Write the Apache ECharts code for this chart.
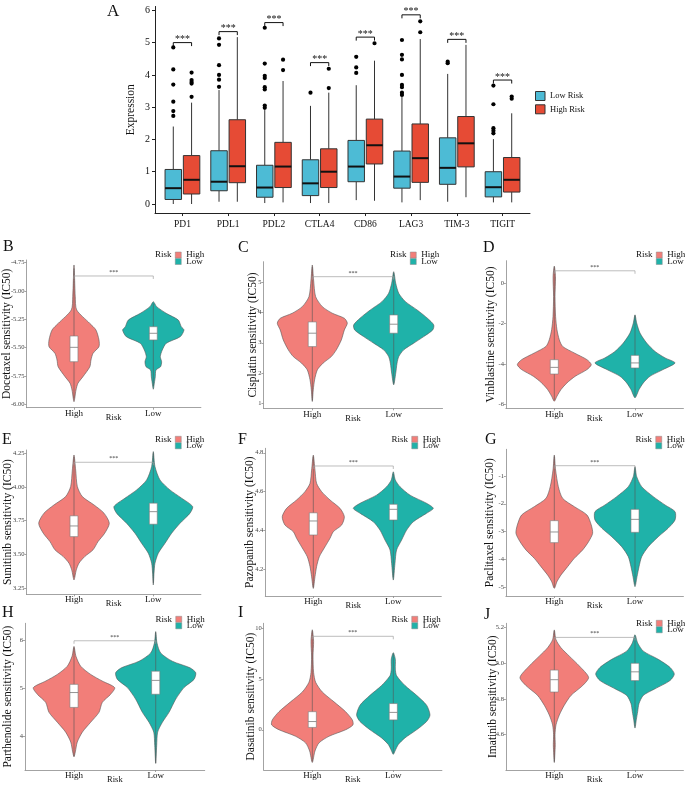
<!DOCTYPE html>
<html><head><meta charset="utf-8">
<script src="https://cdn.jsdelivr.net/npm/echarts@6/dist/echarts.min.js"></script>
<style>html,body{margin:0;padding:0;background:#fff}#c{width:685px;height:785px}</style>
</head><body><div id="c"></div>
<script>
// ---------------- Panel A data ----------------
const genes = ['PD1','PDL1','PDL2','CTLA4','CD86','LAG3','TIM-3','TIGIT'];
// [lower whisker, Q1, median, Q3, upper whisker]
const lowRiskBox = [
  [0.00,0.14,0.49,1.07,2.40],[0.07,0.41,0.69,1.65,3.53],[0.03,0.21,0.51,1.20,2.91],[0.03,0.26,0.64,1.37,3.04],
  [0.12,0.69,1.16,1.97,3.68],[0.05,0.49,0.85,1.64,3.33],[0.07,0.61,1.12,2.05,4.03],[0.05,0.22,0.52,1.00,2.01]];
const highRiskBox = [
  [0.00,0.31,0.75,1.50,3.14],[0.07,0.66,1.17,2.61,5.17],[0.05,0.51,1.16,1.91,3.81],[0.03,0.51,1.00,1.71,3.45],
  [0.10,1.24,1.82,2.63,4.44],[0.12,0.67,1.42,2.48,5.11],[0.21,1.15,1.88,2.71,4.93],[0.05,0.37,0.75,1.44,2.81]];
const lowRiskOutliers = [
  ['PD1',2.73],['PD1',2.88],['PD1',3.17],['PD1',3.70],['PD1',4.17],['PD1',4.85],
  ['PDL1',3.63],['PDL1',3.85],['PDL1',4.00],['PDL1',4.30],['PDL1',4.93],['PDL1',5.13],
  ['PDL2',2.98],['PDL2',3.05],['PDL2',3.55],['PDL2',3.62],['PDL2',3.90],['PDL2',3.97],['PDL2',4.35],['PDL2',5.46],
  ['CTLA4',3.45],['CD86',4.06],['CD86',4.23],['CD86',4.56],
  ['LAG3',3.38],['LAG3',3.45],['LAG3',3.62],['LAG3',3.69],['LAG3',4.00],['LAG3',4.48],['LAG3',4.62],['LAG3',5.08],
  ['TIM-3',4.36],['TIM-3',4.41],['TIGIT',2.19],['TIGIT',2.27],['TIGIT',2.35],['TIGIT',3.09],['TIGIT',3.67]];
const highRiskOutliers = [
  ['PD1',3.32],['PD1',3.73],['PD1',3.78],['PD1',3.84],['PD1',4.07],
  ['PDL2',4.15],['PDL2',4.47],['CTLA4',3.59],['CTLA4',4.19],['CD86',4.98],
  ['LAG3',5.32],['LAG3',5.66],['TIGIT',3.26],['TIGIT',3.33]];
const sigHeightA = [5.00,5.34,5.62,4.38,5.17,5.86,5.10,3.84];
const ticksA = [0,1,2,3,4,5,6];

// ---------------- Violin panels data ----------------
const riskGroups = ['High','Low'];
const drugs = ['Docetaxel','Cisplatin','Vinblastine','Sunitinib','Pazopanib','Paclitaxel','Parthenolide','Dasatinib','Imatinib'];
// violin profiles: [IC50 value, half width in category units]
const B_high = [[-4.770,0],[-5.050,.016],[-5.167,.034],[-5.285,.198],[-5.344,.277],[-5.432,.315],[-5.491,.315],[-5.550,.24],[-5.609,.214],[-5.668,.2],[-5.756,.113],[-5.814,.05],[-5.874,.025],[-5.977,0]];
const B_low  = [[-5.094,0],[-5.138,.042],[-5.197,.164],[-5.256,.315],[-5.315,.353],[-5.344,.387],[-5.403,.34],[-5.461,.164],[-5.521,.113],[-5.580,.088],[-5.624,.105],[-5.668,.092],[-5.697,.034],[-5.756,.025],[-5.814,.013],[-5.867,0]];
const C_high = [[5.571,0],[5.076,.016],[4.525,.041],[4.195,.123],[3.977,.246],[3.81,.394],[3.647,.43],[3.426,.394],[3.096,.357],[2.766,.295],[2.545,.234],[2.327,.132],[2.106,.062],[1.776,.028],[1.446,.012],[1.06,0]];
const C_low  = [[5.35,0],[4.967,.025],[4.637,.062],[4.36,.144],[4.086,.287],[3.81,.415],[3.59,.492],[3.426,.48],[3.205,.369],[2.987,.246],[2.766,.123],[2.545,.062],[2.327,.041],[1.997,.025],[1.61,0]];
const D_high = [[0.854,0],[0.33,.015],[-0.66,.009],[-1.65,.016],[-2.306,.033],[-2.8,.062],[-3.13,.103],[-3.457,.248],[-3.788,.405],[-4.035,.458],[-4.28,.405],[-4.61,.26],[-4.94,.157],[-5.27,.083],[-5.6,.033],[-5.85,0]];
const D_low  = [[-1.565,0],[-1.975,.021],[-2.47,.062],[-2.963,.145],[-3.38,.248],[-3.70,.372],[-3.95,.496],[-4.28,.347],[-4.61,.186],[-4.94,.103],[-5.27,.05],[-5.68,0]];
const E_high = [[4.237,0],[4.126,.021],[4.003,.042],[3.929,.105],[3.867,.252],[3.806,.378],[3.731,.445],[3.657,.387],[3.595,.303],[3.534,.24],[3.484,.135],[3.435,.063],[3.386,.029],[3.311,0]];
const E_low  = [[4.262,0],[4.151,.021],[4.052,.084],[3.978,.21],[3.917,.357],[3.855,.496],[3.806,.463],[3.731,.337],[3.657,.231],[3.583,.148],[3.509,.063],[3.435,.021],[3.361,.009],[3.274,0]];
const F_high = [[4.788,0],[4.711,.021],[4.643,.041],[4.6,.104],[4.557,.209],[4.514,.334],[4.471,.388],[4.428,.354],[4.394,.25],[4.36,.209],[4.316,.146],[4.265,.075],[4.214,.041],[4.162,.021],[4.102,0]];
const F_low  = [[4.702,0],[4.66,.025],[4.625,.084],[4.582,.209],[4.54,.416],[4.514,.5],[4.488,.413],[4.445,.25],[4.402,.166],[4.351,.104],[4.3,.041],[4.231,.021],[4.145,0]];
const G_high = [[-0.245,0],[-0.784,.016],[-1.384,.05],[-1.803,.103],[-2.103,.248],[-2.403,.405],[-2.763,.458],[-3.062,.475],[-3.362,.425],[-3.662,.351],[-3.961,.248],[-4.261,.165],[-4.561,.083],[-4.80,.033],[-5.04,0]];
const G_low  = [[-0.666,0],[-1.024,.021],[-1.384,.083],[-1.744,.227],[-2.043,.372],[-2.283,.496],[-2.583,.496],[-2.883,.409],[-3.182,.289],[-3.542,.165],[-3.902,.083],[-4.261,.05],[-4.62,.025],[-4.98,0]];
const H_high = [[5.863,0],[5.658,.024],[5.453,.082],[5.283,.204],[5.146,.346],[5.01,.498],[4.873,.449],[4.703,.346],[4.498,.306],[4.293,.204],[4.088,.102],[3.883,.04],[3.678,.016],[3.576,0]];
const H_low  = [[6.17,0],[5.932,.016],[5.727,.061],[5.556,.204],[5.42,.42],[5.318,.49],[5.18,.469],[5.01,.346],[4.77,.245],[4.498,.163],[4.293,.082],[4.088,.024],[3.814,.012],[3.44,0]];
const I_high = [[9.845,0],[8.71,.016],[7.26,.009],[5.65,.016],[4.68,.041],[3.72,.123],[2.75,.268],[1.78,.411],[0.97,.494],[0.48,.502],[0,.411],[-0.64,.206],[-1.29,.083],[-2.09,.033],[-3.22,0]];
const I_low  = [[7.59,0],[6.94,.025],[5.97,.025],[5.32,.041],[4.36,.144],[3.39,.288],[2.42,.411],[1.45,.453],[0.81,.411],[0,.288],[-0.8,.144],[-1.45,.062],[-2.09,.021],[-2.42,0]];
const J_high = [[5.187,0],[5.132,.021],[5.087,.083],[5.04,.186],[4.985,.31],[4.921,.425],[4.875,.351],[4.82,.207],[4.765,.124],[4.71,.062],[4.655,.021],[4.6,.009],[4.545,.012],[4.509,.009],[4.444,0]];
const J_low  = [[5.16,0],[5.114,.033],[5.068,.103],[5.022,.289],[4.977,.434],[4.94,.487],[4.903,.434],[4.857,.248],[4.82,.103],[4.775,.05],[4.729,.033],[4.683,.016],[4.637,0]];
// inner boxes: [High, Low], each [lower, Q1, median, Q3, upper]
const B_box = [[-5.95,-5.624,-5.497,-5.397,-4.80],[-5.84,-5.432,-5.373,-5.315,-5.11]];
const C_box = [[1.10,2.875,3.317,3.69,5.50],[1.65,3.317,3.614,3.92,5.30]];
const D_box = [[-5.80,-4.50,-4.17,-3.79,0.80],[-5.60,-4.20,-3.95,-3.574,-1.60]];
const E_box = [[3.33,3.632,3.711,3.786,4.22],[3.29,3.724,3.817,3.880,4.25]];
const F_box = [[4.11,4.377,4.449,4.491,4.78],[4.16,4.454,4.509,4.535,4.69]];
const G_box = [[-5.00,-3.398,-3.014,-2.607,-0.30],[-4.90,-3.026,-2.56,-2.20,-0.70]];
const H_box = [[3.60,4.60,4.908,5.078,5.84],[3.45,4.873,5.16,5.35,6.15]];
const I_box = [[-3.10,0.23,0.81,1.78,9.70],[-2.30,0.97,1.71,2.58,7.50]];
const J_box = [[4.45,4.839,4.908,4.962,5.18],[4.65,4.903,4.952,5.00,5.15]];
const sigHeights = [-4.867, 5.185, 0.62, 4.183, 4.732, -0.63, 5.98, 9.2, 5.145];
const B_ticks = [-6,-5.75,-5.5,-5.25,-5,-4.75];
const C_ticks = [1,2,3,4,5];
const D_ticks = [-6,-4,-2,0];
const E_ticks = [3.25,3.5,3.75,4,4.25];
const F_ticks = [4.2,4.4,4.6,4.8];
const G_ticks = [-5,-4,-3,-2,-1];
const H_ticks = [4,5,6];
const I_ticks = [0,5,10];
const J_ticks = [4.6,4.8,5.0,5.2];

// ---------------- layout & style ----------------
const SERIF = '"Liberation Serif","Times New Roman",serif';
const BLUE = '#4DBBD5', RED = '#E64B35';
const HIGHC = '#F27E79', LOWC = '#1FB2A9';
const AXG = '#8c8c8c';

const panels = [
  {L:'B', hi:B_high, lo:B_low, box:B_box, ticks:B_ticks, dec:2, c:[74,153.3], v:[260,407.7], yr:[-6.03,-4.726], letter:[3,247], nameX:7.3, leg:[175,250.5], lab:1.5},
  {L:'C', hi:C_high, lo:C_low, box:C_box, ticks:C_ticks, dec:0, c:[312.3,393.7], v:[261.7,408.3], yr:[0.835,5.68], letter:[238,248], nameX:253.3, leg:[410,250.5], lab:1.5},
  {L:'D', hi:D_high, lo:D_low, box:D_box, ticks:D_ticks, dec:0, c:[554.3,635], v:[260.7,408.3], yr:[-6.2,1.12], letter:[483,248], nameX:491, leg:[656,250.5], lab:1.5},
  {L:'E', hi:E_high, lo:E_low, box:E_box, ticks:E_ticks, dec:2, c:[74,153.3], v:[450,594.3], yr:[3.2045,4.274], letter:[2,440], nameX:8.3, leg:[175,434.8], lab:1},
  {L:'F', hi:F_high, lo:F_low, box:F_box, ticks:F_ticks, dec:1, c:[313.3,393.3], v:[448.3,596], yr:[4.063,4.823], letter:[238,440], nameX:250, leg:[411.5,434.8], lab:1},
  {L:'G', hi:G_high, lo:G_low, box:G_box, ticks:G_ticks, dec:0, c:[554.3,635], v:[449.3,596], yr:[-5.317,-0.04], letter:[485,440], nameX:490, leg:[655.5,434.8], lab:1},
  {L:'H', hi:H_high, lo:H_low, box:H_box, ticks:H_ticks, dec:0, c:[74,155.7], v:[623.3,771.7], yr:[3.304,6.342], letter:[2,613], nameX:8.3, leg:[175.5,614.8], lab:1},
  {L:'I', hi:I_high, lo:I_low, box:I_box, ticks:I_ticks, dec:0, c:[312.3,393.3], v:[623.3,772.7], yr:[-3.96,10.48], letter:[238,613], nameX:250.7, leg:[411.5,614.8], lab:1},
  {L:'J', hi:J_high, lo:J_low, box:J_box, ticks:J_ticks, dec:1, c:[554.3,635], v:[623.3,772.7], yr:[4.402,5.224], letter:[484,615], nameX:493.3, leg:[656,618.8], lab:1}
];

const grid = [], xAxis = [], yAxis = [], series = [], legend = [], graphic = [];

// ---------- Panel A ----------
const aPx = 32.28;
grid.push({left:155, top:204 - 6.12*aPx, width:375, height:6.4*aPx, containLabel:false});
xAxis.push({type:'value', gridIndex:0, min:0.4, max:8.6, splitLine:{show:false},
  axisLine:{onZero:false, lineStyle:{color:'#222', width:1}},
  axisTick:{customValues:[1,2,3,4,5,6,7,8], length:3, lineStyle:{color:'#222'}},
  axisLabel:{customValues:[1,2,3,4,5,6,7,8], formatter:v=>genes[Math.round(v)-1], fontFamily:SERIF, fontSize:9.5, color:'#111', margin:6}});
yAxis.push({type:'value', gridIndex:0, min:-0.28, max:6.12, splitLine:{show:false},
  axisLine:{show:true, onZero:false, lineStyle:{color:'#222', width:1}},
  axisTick:{show:true, customValues:ticksA, length:3, lineStyle:{color:'#222'}},
  axisLabel:{customValues:ticksA, fontFamily:SERIF, fontSize:10, color:'#111', margin:5},
  name:'Expression', nameLocation:'middle', nameGap:18, nameMoveOverlap:false,
  nameTextStyle:{fontFamily:SERIF, fontSize:11.5, color:'#111'}});

function boxA(off, fill) {
  return function (p, api) {
    const x = api.value(0) + off;
    const lo = api.coord([x, api.value(1)]), q1 = api.coord([x, api.value(2)]),
          md = api.coord([x, api.value(3)]), q3 = api.coord([x, api.value(4)]), hi = api.coord([x, api.value(5)]);
    const hw = api.size([0.18, 0])[0];
    return {type:'group', children:[
      {type:'line', shape:{x1:lo[0], y1:lo[1], x2:q1[0], y2:q1[1]}, style:{stroke:'#333', lineWidth:1}},
      {type:'line', shape:{x1:q3[0], y1:q3[1], x2:hi[0], y2:hi[1]}, style:{stroke:'#333', lineWidth:1}},
      {type:'rect', shape:{x:q3[0]-hw, y:q3[1], width:2*hw, height:q1[1]-q3[1]}, style:{fill:fill, stroke:'#333', lineWidth:1}},
      {type:'line', shape:{x1:md[0]-hw, y1:md[1], x2:md[0]+hw, y2:md[1]}, style:{stroke:'#111', lineWidth:2}}
    ]};
  };
}
function outA(off) {
  return function (p, api) {
    const c = api.coord([api.value(0) + off, api.value(1)]);
    return {type:'circle', shape:{cx:c[0], cy:c[1], r:2.1}, style:{fill:'#000'}};
  };
}
series.push({type:'custom', name:'Low Risk', xAxisIndex:0, yAxisIndex:0, itemStyle:{color:BLUE},
  data: lowRiskBox.map((b,i)=>[i+1].concat(b)), renderItem: boxA(-0.2, BLUE), z:2});
series.push({type:'custom', name:'High Risk', xAxisIndex:0, yAxisIndex:0, itemStyle:{color:RED},
  data: highRiskBox.map((b,i)=>[i+1].concat(b)), renderItem: boxA(0.2, RED), z:2});
series.push({type:'custom', name:'Low Risk', xAxisIndex:0, yAxisIndex:0, itemStyle:{color:BLUE},
  data: lowRiskOutliers.map(o=>[genes.indexOf(o[0])+1, o[1]]), renderItem: outA(-0.2), z:3});
series.push({type:'custom', name:'High Risk', xAxisIndex:0, yAxisIndex:0, itemStyle:{color:RED},
  data: highRiskOutliers.map(o=>[genes.indexOf(o[0])+1, o[1]]), renderItem: outA(0.2), z:3});
series.push({type:'custom', xAxisIndex:0, yAxisIndex:0, silent:true,
  data: sigHeightA.map((h,i)=>[i+1, h]),
  renderItem: function (p, api) {
    const a = api.coord([api.value(0)-0.2, api.value(1)]), b = api.coord([api.value(0)+0.2, api.value(1)]);
    return {type:'group', children:[
      {type:'polyline', shape:{points:[[a[0],a[1]+3.5],[a[0],a[1]],[b[0],b[1]],[b[0],b[1]+3.5]]}, style:{stroke:'#111', lineWidth:1, fill:null}},
      {type:'text', style:{text:'***', x:(a[0]+b[0])/2, y:a[1]+2, align:'center', verticalAlign:'bottom', font:'10px '+SERIF, fill:'#111'}}
    ]};
  }});
legend.push({left:535, top:91, padding:0, orient:'vertical', itemWidth:9.5, itemHeight:9, itemGap:3.3,
  data:[{name:'Low Risk', icon:'rect', itemStyle:{color:BLUE, borderColor:'#333', borderWidth:1}},
        {name:'High Risk', icon:'rect', itemStyle:{color:RED, borderColor:'#333', borderWidth:1}}],
  textStyle:{fontFamily:SERIF, fontSize:8.5, color:'#111', lineHeight:9}, selectedMode:false});
graphic.push({type:'text', left:107, top:3, style:{text:'A', font:'17px '+SERIF, fill:'#111'}});

// ---------- Violin panels ----------
function violin(prof, color) {
  return function (p, api) {
    const xc = api.value(0);
    const right = prof.map(d => api.coord([xc + d[1], d[0]]));
    const left = prof.slice(1, -1).reverse().map(d => api.coord([xc - d[1], d[0]]));
    return {type:'polygon', shape:{points:right.concat(left), smooth:0.25},
      style:{fill:color, stroke:'#555', lineWidth:0.6}};
  };
}
function innerBox(p, api) {
  const x = api.value(0);
  const pt = i => api.coord([x, api.value(i)]);
  const lo = pt(1), q1 = pt(2), md = pt(3), q3 = pt(4), hi = pt(5);
  const hw = api.size([0.05, 0])[0];
  return {type:'group', children:[
    {type:'line', shape:{x1:lo[0], y1:lo[1], x2:hi[0], y2:hi[1]}, style:{stroke:'#555', lineWidth:0.6}},
    {type:'rect', shape:{x:q3[0]-hw, y:q3[1], width:2*hw, height:q1[1]-q3[1]}, style:{fill:'#fff', stroke:'#7a7a7a', lineWidth:0.6}},
    {type:'line', shape:{x1:md[0]-hw, y1:md[1], x2:md[0]+hw, y2:md[1]}, style:{stroke:'#7a7a7a', lineWidth:0.8}}
  ]};
}
function sigLine(p, api) {
  const a = api.coord([api.value(0), api.value(2)]), b = api.coord([api.value(1), api.value(2)]);
  return {type:'group', children:[
    {type:'polyline', shape:{points:[[a[0],a[1]+3],[a[0],a[1]],[b[0],b[1]],[b[0],b[1]+3]]}, style:{stroke:'#a0a0a0', lineWidth:0.7, fill:null}},
    {type:'text', style:{text:'***', x:(a[0]+b[0])/2, y:a[1]-0.5, align:'center', verticalAlign:'bottom', font:'6px '+SERIF, fill:'#333'}}
  ]};
}

panels.forEach((P, k) => {
  const gi = k + 1;
  const sp = P.c[1] - P.c[0];
  const left = P.c[0] - 0.6*sp;
  grid.push({left:left, top:P.v[0], width:2.2*sp, height:P.v[1]-P.v[0]});
  xAxis.push({type:'value', gridIndex:gi, min:0.4, max:2.6, splitLine:{show:false},
    axisLine:{onZero:false, lineStyle:{color:AXG, width:0.8}},
    axisTick:{customValues:[1,2], length:2, lineStyle:{color:AXG, width:0.8}},
    axisLabel:{customValues:[1,2], formatter:v=>riskGroups[Math.round(v)-1], fontFamily:SERIF, fontSize:9, color:'#111', margin:P.lab},
    name:'Risk', nameLocation:'middle', nameGap:P.lab+4, nameMoveOverlap:false,
    nameTextStyle:{fontFamily:SERIF, fontSize:8.5, color:'#111'}});
  yAxis.push({type:'value', gridIndex:gi, min:P.yr[0], max:P.yr[1], splitLine:{show:false},
    axisLine:{show:true, onZero:false, lineStyle:{color:AXG, width:0.8}},
    axisTick:{show:true, customValues:P.ticks, length:2, lineStyle:{color:AXG, width:0.8}},
    axisLabel:{customValues:P.ticks, formatter:v=>v.toFixed(P.dec), fontFamily:SERIF, fontSize:6.5, color:'#444', margin:2},
    name:drugs[k] + ' sensitivity (IC50)', nameLocation:'middle', nameGap:left - P.nameX - 6, nameMoveOverlap:false,
    nameTextStyle:{fontFamily:SERIF, fontSize:11.5, color:'#111'}});
  series.push({type:'custom', name:'High', xAxisIndex:gi, yAxisIndex:gi, itemStyle:{color:HIGHC},
    data:[[1, P.box[0][2]]], renderItem: violin(P.hi, HIGHC)});
  series.push({type:'custom', name:'Low', xAxisIndex:gi, yAxisIndex:gi, itemStyle:{color:LOWC},
    data:[[2, P.box[1][2]]], renderItem: violin(P.lo, LOWC)});
  series.push({type:'custom', xAxisIndex:gi, yAxisIndex:gi, silent:true, z:3,
    data:[[1].concat(P.box[0]), [2].concat(P.box[1])], renderItem: innerBox});
  series.push({type:'custom', xAxisIndex:gi, yAxisIndex:gi, silent:true, z:3,
    data:[[1, 2, sigHeights[k]]], renderItem: sigLine});
  legend.push({left:P.leg[0], top:P.leg[1], padding:0, orient:'vertical', itemWidth:6, itemHeight:6, itemGap:-2.5, itemTextGap:2,
    data:[{name:'High', icon:'rect', itemStyle:{color:HIGHC, borderColor:'#888', borderWidth:0.5}},
          {name:'Low', icon:'rect', itemStyle:{color:LOWC, borderColor:'#888', borderWidth:0.5}}],
    textStyle:{fontFamily:SERIF, fontSize:9, color:'#111', lineHeight:6.5}, selectedMode:false});
  graphic.push({type:'text', x:P.leg[0]-3.5, y:P.leg[1]+4.5,
    style:{text:'Risk', font:'9px '+SERIF, fill:'#111', align:'right', verticalAlign:'middle'}});
  graphic.push({type:'text', x:P.letter[0], y:P.letter[1],
    style:{text:P.L, font:'16px '+SERIF, fill:'#111', align:'left', verticalAlign:'middle'}});
});

const chart = echarts.init(document.getElementById('c'), null, {renderer:'canvas', width:685, height:785});
chart.setOption({
  animation:false, backgroundColor:'#fff',
  textStyle:{fontFamily:SERIF},
  grid, xAxis, yAxis, series, legend, graphic
});
</script></body></html>
